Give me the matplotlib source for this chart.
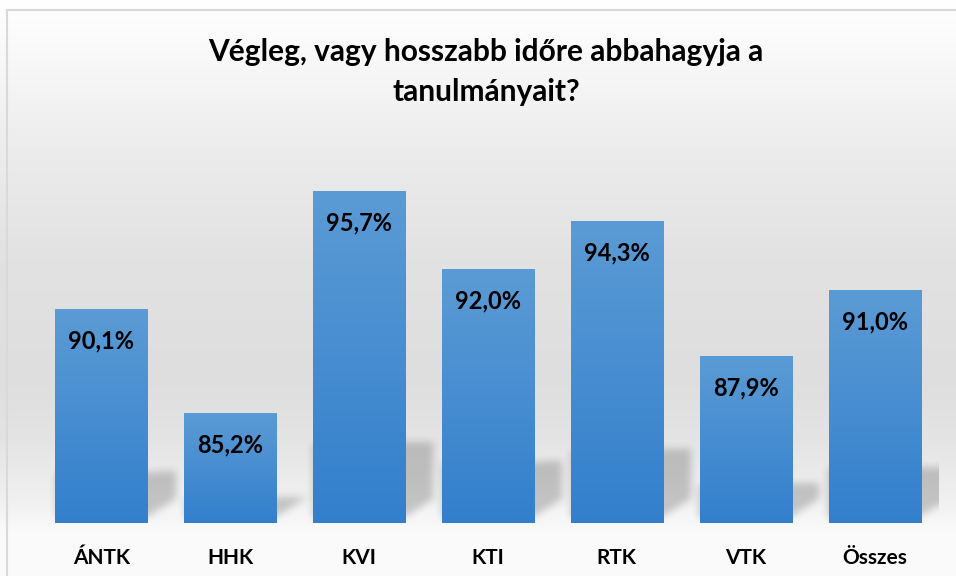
import numpy as np
import matplotlib
matplotlib.use("Agg")
import matplotlib.pyplot as plt
from matplotlib.path import Path

plt.rcParams['font.family'] = ['Lato', 'DejaVu Sans']

categories = ["ÁNTK", "HHK", "KVI", "KTI", "RTK", "VTK", "Összes"]
values = [90.1, 85.2, 95.7, 92.0, 94.3, 87.9, 91.0]
labels = ["90,1%", "85,2%", "95,7%", "92,0%", "94,3%", "87,9%", "91,0%"]
title = "Végleg, vagy hosszabb időre abbahagyja a\ntanulmányait?"

YMIN, YMAX = 80, 100
W, H = 956, 576
fig = plt.figure(figsize=(W / 100, H / 100), dpi=100)

# background gradient
bg = fig.add_axes([0, 0, 1, 1], zorder=-10)
rows = np.arange(H)
stops_y = [0, 10, 60, 150, 260, 380, 440, 500, 530, 576]
stops_v = [255, 254, 248, 236, 226, 222, 228, 240, 250, 251]
col = np.interp(rows, stops_y, stops_v) / 255.0
grad = np.repeat(col[:, None], 4, axis=1)
bg.imshow(grad[:, :, None] * np.ones((1, 1, 3)), extent=(0, W, H, 0), aspect='auto',
          interpolation='bilinear')
bg.set_xlim(0, W)
bg.set_ylim(H, 0)
bg.plot([7, W + 5], [10, 10], color='#d9d9d9', lw=1.5)
bg.plot([7, 7], [10, H + 5], color='#d9d9d9', lw=1.5)
bg.axis('off')

ax = fig.add_axes([37 / W, 53 / H, 902 / W, 423 / H])
ax.set_facecolor('none')
x = np.arange(len(categories))
bw = 0.715
ax.set_xlim(-0.5, len(categories) - 0.5)
ax.set_ylim(YMIN, YMAX)

# shadows (perspective-like, blurred)
px_x = (len(categories)) / 902.0
px_y = (YMAX - YMIN) / 423.0
nx, ny = 902, 423
gx = np.linspace(-0.5, len(categories) - 0.5, nx)
gy = np.linspace(YMIN, YMAX, ny)
GX, GY = np.meshgrid(gx, gy)
pts = np.column_stack([GX.ravel(), GY.ravel()])
mask = np.zeros(GX.size, dtype=float)
for xi, v in zip(x, values):
    top = YMIN + 0.25 * (v - YMIN)
    x0, x1 = xi - bw / 2, xi + bw / 2
    poly = [(x0, YMIN + 4 * px_y), (x1, YMIN + 6 * px_y),
            (x1 + 28 * px_x, YMIN + 24 * px_y),
            (x1 + 28 * px_x, top - 2 * px_y), (x0, top - 4 * px_y)]
    mask = np.maximum(mask, Path(poly).contains_points(pts).astype(float))
mask = mask.reshape(ny, nx)

def box(a, k, axis):
    pad = [(0, 0), (0, 0)]
    pad[axis] = (k, k)
    ap = np.pad(a, pad, mode='edge')
    c = np.cumsum(ap, axis=axis)
    c = np.insert(c, 0, 0, axis=axis)
    n = a.shape[axis]
    if axis == 0:
        return (c[2 * k + 1:2 * k + 1 + n] - c[:n]) / (2 * k + 1)
    return (c[:, 2 * k + 1:2 * k + 1 + n] - c[:, :n]) / (2 * k + 1)

for _ in range(2):
    mask = box(mask, 4, 0)
    mask = box(mask, 4, 1)
shadow = np.zeros((ny, nx, 4))
shadow[..., 3] = mask * 0.19
ax.imshow(shadow, extent=(-0.5, len(categories) - 0.5, YMIN, YMAX), origin='lower',
          aspect='auto', zorder=1, interpolation='bilinear')

bars = ax.bar(x, [v - YMIN for v in values], bottom=YMIN, width=bw,
              color='#4a8fd3', zorder=2, linewidth=0)
top_c = np.array([0.357, 0.608, 0.835])
bot_c = np.array([0.20, 0.50, 0.80])
tt = np.linspace(0, 1, 64)[:, None]
gimg = (bot_c[None, :] * (1 - tt) + top_c[None, :] * tt)[:, None, :]
for b, v in zip(bars, values):
    im = ax.imshow(gimg, extent=(b.get_x(), b.get_x() + b.get_width(), YMIN, v),
                   origin='lower', aspect='auto', zorder=3, interpolation='bilinear')
    im.set_clip_path(b)

for xi, v, lab in zip(x, values, labels):
    ax.annotate(lab, (xi, v), xytext=(0, -23), textcoords='offset points',
                ha='center', va='center', fontsize=17, fontweight='bold',
                color='black', zorder=5)

ax.set_xticks(x)
ax.set_xticklabels(categories, fontsize=15, fontweight='bold')
ax.tick_params(axis='x', length=0, pad=18)
ax.set_yticks([])
for s in ax.spines.values():
    s.set_visible(False)

fig.text(486 / W, 1 - 72 / H, title, ha='center', va='center', fontsize=21.5,
         fontweight='bold', linespacing=1.5)

fig.savefig("out.png", dpi=100)
